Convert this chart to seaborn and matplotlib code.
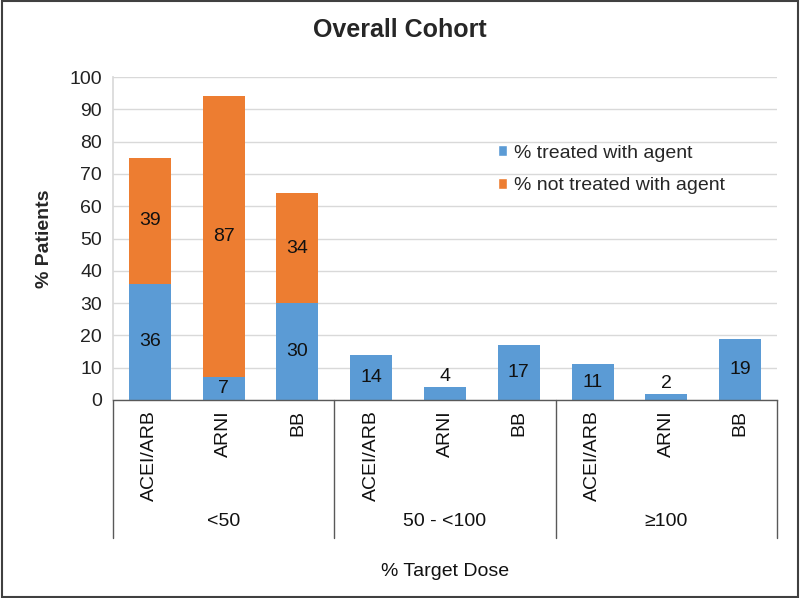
import matplotlib
matplotlib.use("Agg")
import matplotlib.pyplot as plt
import matplotlib.transforms as mtransforms
from matplotlib.patches import Rectangle, Patch
import seaborn as sns
import pandas as pd

groups = ["<50", "50 - <100", "≥100"]
agents = ["ACEI/ARB", "ARNI", "BB"]
treated = [36, 7, 30, 14, 4, 17, 11, 2, 19]
not_treated = [39, 87, 34, 0, 0, 0, 0, 0, 0]

BLUE = "#5B9BD5"
ORANGE = "#ED7D31"
FS = 14

keys = [f"{g}|{a}" for g in groups for a in agents]
df = pd.DataFrame({
    "key": keys,
    "treated": treated,
    "not_treated": not_treated,
})
df["total"] = df["treated"] + df["not_treated"]

sns.set_theme(style="white")
plt.rcParams["font.family"] = ["Liberation Sans", "DejaVu Sans"]

fig = plt.figure(figsize=(8.0, 5.98), dpi=100)
ax = fig.add_axes([113 / 800, 1 - 400 / 598, 664 / 800, 323 / 598])

sns.barplot(data=df, x="key", y="total", order=keys, color=ORANGE,
            width=0.57, saturation=1, ax=ax, edgecolor="none")
sns.barplot(data=df, x="key", y="treated", order=keys, color=BLUE,
            width=0.57, saturation=1, ax=ax, edgecolor="none")

ax.set_ylim(0, 100)
ax.set_xlim(-0.5, len(keys) - 0.5)
ax.set_yticks(range(0, 101, 10))
ax.tick_params(axis="y", labelsize=FS, length=0, pad=8, colors="#222222")
ax.set_xticks([])
ax.set_xlabel("")
ax.set_ylabel("% Patients", fontsize=FS, fontweight="bold", labelpad=12)
ax.yaxis.grid(True, color="#D9D9D9", linewidth=1)
ax.set_axisbelow(True)
for s in ["top", "right"]:
    ax.spines[s].set_visible(False)
ax.spines["left"].set_color("#D9D9D9")
ax.spines["bottom"].set_color("#595959")
ax.spines["bottom"].set_linewidth(1)

# segment labels
for i, (t, n) in enumerate(zip(treated, not_treated)):
    if t >= 6:
        ax.text(i, t / 2, str(t), ha="center", va="center", fontsize=FS, color="#111111")
    else:
        ax.text(i, t + 0.5, str(t), ha="center", va="bottom", fontsize=FS, color="#111111")
    if n > 0:
        ax.text(i, t + n / 2, str(n), ha="center", va="center", fontsize=FS, color="#111111")

# hierarchical category axis
trans = mtransforms.blended_transform_factory(ax.transData, ax.transAxes)
ah = 323.0
for i, k in enumerate(keys):
    ax.text(i, -10 / ah, k.split("|")[1], rotation=90, ha="center", va="top",
            fontsize=FS, transform=trans, clip_on=False, color="#111111")
for gi, g in enumerate(groups):
    ax.text(gi * 3 + 1, -121 / ah, g, ha="center", va="center", fontsize=FS,
            transform=trans, clip_on=False, color="#111111")
for b in [-0.5, 2.5, 5.5, 8.5]:
    ax.plot([b, b], [0, -138 / ah], color="#595959", linewidth=1,
            transform=trans, clip_on=False)
ax.text(4, -171 / ah, "% Target Dose", ha="center", va="center", fontsize=FS,
        transform=trans, clip_on=False, color="#111111")

# legend
handles = [Patch(facecolor=BLUE, label="% treated with agent"),
           Patch(facecolor=ORANGE, label="% not treated with agent")]
ax.legend(handles=handles, loc="upper left", bbox_to_anchor=(0.553, 0.845),
          frameon=False, fontsize=FS, handlelength=0.5, handleheight=0.5,
          handletextpad=0.35, labelspacing=0.8)

fig.text(0.5, 1 - 30 / 598, "Overall Cohort", ha="center", va="center",
         fontsize=18, fontweight="bold")

fig.patches.append(Rectangle((0.002, 0.002), 0.996, 0.996, transform=fig.transFigure,
                             fill=False, edgecolor="#404040", linewidth=1.5))

fig.savefig("out.png", dpi=100)
